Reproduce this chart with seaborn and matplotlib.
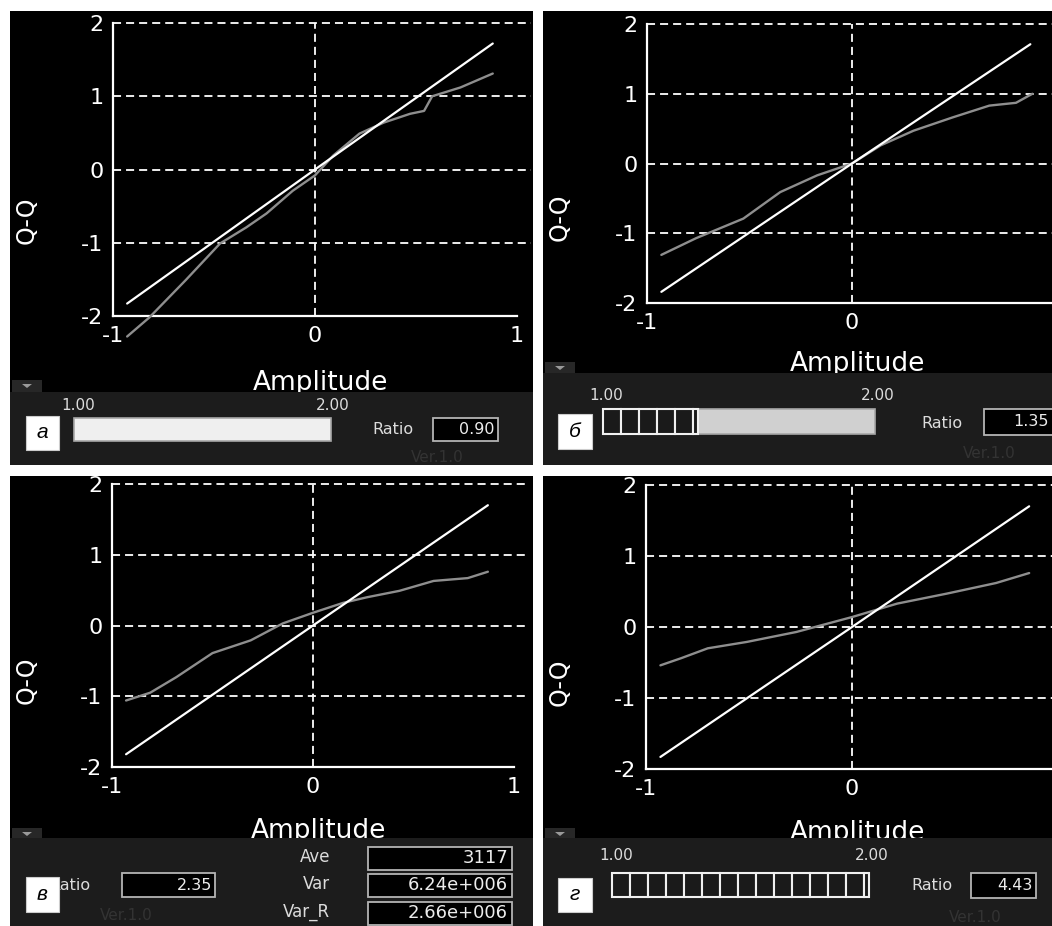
import matplotlib
matplotlib.use("Agg")
import matplotlib.pyplot as plt
from matplotlib.patches import Rectangle, Polygon
import seaborn as sns

# values
panel_letters = ["а", "б", "в", "г"]
ratios = [0.90, 1.35, 2.35, 4.43]
ratio_text = ["0.90", "1.35", "2.35", "4.43"]
slider_labels = ["1.00", "2.00"]
stat_names = ["Ave", "Var", "Var_R"]
stat_values = ["3117", "6.24e+006", "2.66e+006"]
x_ticks = [-1, 0, 1]
y_ticks = [-2, -1, 0, 1, 2]

# white reference line
ref_x = [[-0.93, 0.0, 0.88], [-0.93, 0.0, 0.87], [-0.93, 0.0, 0.87], [-0.93, 0.0, 0.86]]
ref_y = [[-1.83, 0.0, 1.72], [-1.84, 0.0, 1.71], [-1.82, 0.0, 1.70], [-1.83, 0.0, 1.70]]

# grey empirical quantile line
qq_x_a = [-0.93, -0.82, -0.64, -0.47, -0.34, -0.24, -0.11, 0.0, 0.09, 0.22, 0.34, 0.47, 0.54, 0.58, 0.72, 0.88]
qq_y_a = [-2.28, -2.02, -1.51, -1.01, -0.79, -0.60, -0.29, -0.08, 0.19, 0.49, 0.64, 0.76, 0.80, 1.00, 1.12, 1.31]
qq_x_b = [-0.93, -0.76, -0.53, -0.35, -0.17, 0.0, 0.14, 0.30, 0.49, 0.67, 0.80, 0.88]
qq_y_b = [-1.31, -1.07, -0.79, -0.41, -0.17, 0.0, 0.26, 0.47, 0.66, 0.83, 0.87, 1.00]
qq_x_c = [-0.93, -0.81, -0.68, -0.50, -0.31, -0.15, 0.0, 0.15, 0.27, 0.43, 0.60, 0.77, 0.87]
qq_y_c = [-1.06, -0.95, -0.73, -0.39, -0.21, 0.03, 0.18, 0.32, 0.40, 0.49, 0.63, 0.67, 0.76]
qq_x_d = [-0.93, -0.83, -0.70, -0.51, -0.27, 0.0, 0.22, 0.46, 0.70, 0.86]
qq_y_d = [-0.54, -0.44, -0.30, -0.21, -0.07, 0.14, 0.33, 0.47, 0.62, 0.76]
qq_x = [qq_x_a, qq_x_b, qq_x_c, qq_x_d]
qq_y = [qq_y_a, qq_y_b, qq_y_c, qq_y_d]

W, H = 1052, 926

# screen layout in pixels (x from left, y from top)
layout = [
    dict(box=(10, 11, 523, 454), strip=392, tab=(12, 380), xl=113, x0=315, yt=23, yb=316,
         amp=(320, 390), qq=(27, 220), slider=(74, 418, 257, 23), smin=(78, 406), smax=(333, 406),
         slider_bg="#efefef", letter=(26, 416, 33, 34), ratio=(393, 430), vbox=(433, 418, 65, 23),
         vtx=494, ver=(437, 458)),
    dict(box=(543, 11, 520, 454), strip=373, tab=(545, 362), xl=647, x0=852, yt=24, yb=303,
         amp=(857, 371), qq=(560, 217), slider=(603, 409, 272, 25), smin=(606, 396), smax=(878, 396),
         slider_bg="#d0d0d0", letter=(558, 414, 34, 35), ratio=(942, 423), vbox=(984, 409, 80, 26),
         vtx=1049, ver=(989, 454)),
    dict(box=(10, 476, 523, 460), strip=838, tab=(12, 828), xl=112, x0=313, yt=484, yb=767,
         amp=(318, 838), qq=(27, 680), slider=None, letter=(26, 877, 33, 35), ratio=(70, 885),
         vbox=(122, 873, 93, 24), vtx=212, ver=(126, 915)),
    dict(box=(543, 476, 520, 460), strip=838, tab=(545, 828), xl=646, x0=852, yt=485, yb=769,
         amp=(857, 840), qq=(560, 682), slider=(612, 873, 257, 24), smin=(616, 856), smax=(872, 856),
         slider_bg="#d0d0d0", letter=(558, 878, 34, 34), ratio=(932, 886), vbox=(971, 873, 65, 25),
         vtx=1033, ver=(975, 918)),
]

sns.set_style("white")
plt.rcParams["font.family"] = ["DejaVu Sans"]
plt.rcParams["axes.unicode_minus"] = False
plt.rcParams["lines.scale_dashes"] = False

fig = plt.figure(figsize=(W / 100, H / 100), dpi=100, facecolor="white")

ax_bg = fig.add_axes([0, 0, 1, 1], zorder=0)
ax_fg = fig.add_axes([0, 0, 1, 1], zorder=3)
for a in (ax_bg, ax_fg):
    a.set_xlim(0, W)
    a.set_ylim(H, 0)
    a.axis("off")
    a.patch.set_alpha(0)

txt = "#dcdcdc"
dash = (0, (5.8, 3.6))

for i, L in enumerate(layout):
    bx, by, bw, bh = L["box"]
    ax_bg.add_patch(Rectangle((bx, by), bw, bh, facecolor="black", edgecolor="none"))

    # plot area
    unit = L["x0"] - L["xl"]
    xmax = 1.07
    right = L["x0"] + xmax * unit
    ax = fig.add_axes([L["xl"] / W, 1 - L["yb"] / H, (right - L["xl"]) / W, (L["yb"] - L["yt"]) / H], zorder=1)
    ax.patch.set_alpha(0)
    ax.set_xlim(-1, xmax)
    ax.set_ylim(-2, 2)
    for yv in y_ticks[1:]:
        ax.axhline(yv, color="white", lw=1.3, ls=dash, clip_on=False, zorder=1)
    ax.axvline(0, color="white", lw=1.3, ls=dash, clip_on=False, zorder=1)

    sns.lineplot(x=qq_x[i], y=qq_y[i], ax=ax, color="#8e8e8e", linewidth=1.7,
                 estimator=None, sort=False, clip_on=False, zorder=3)
    sns.lineplot(x=ref_x[i], y=ref_y[i], ax=ax, color="white", linewidth=1.6,
                 estimator=None, sort=False, clip_on=False, zorder=4)

    for s in ("top", "right"):
        ax.spines[s].set_visible(False)
    for s in ("left", "bottom"):
        ax.spines[s].set_color("white")
        ax.spines[s].set_linewidth(1.6)
    ax.spines["bottom"].set_bounds(-1, 1)
    # ticks that fall outside the screenshot are not shown
    ax.set_xticks([t for t in x_ticks if L["x0"] + t * unit + 8 < W])
    ax.set_yticks(y_ticks)
    ax.tick_params(length=0, colors="white", labelsize=16, pad=7)
    ax.set_xlabel("Amplitude", color="white", fontsize=19, va="baseline")
    ax.xaxis.set_label_coords(L["amp"][0], L["amp"][1], transform=ax_bg.transData)
    ax.set_ylabel("Q-Q", color="white", fontsize=17, va="center")
    ax.yaxis.set_label_coords(L["qq"][0], L["qq"][1], transform=ax_bg.transData)

    # control strip under the plot
    ax_fg.add_patch(Rectangle((bx, L["strip"]), bw, by + bh - L["strip"], facecolor="#1c1c1c",
                              edgecolor="none", zorder=1))
    tx, ty = L["tab"]
    ax_fg.add_patch(Rectangle((tx, ty), 30, L["strip"] - ty, facecolor="#272727", edgecolor="none", zorder=1))
    ax_fg.add_patch(Polygon([(tx + 10, ty + 4), (tx + 20, ty + 4), (tx + 15, ty + 8)], closed=True,
                            facecolor="#9a9a9a", edgecolor="none", zorder=2))

    if L["slider"] is not None:
        sx, sy, sw, sh = L["slider"]
        ax_fg.add_patch(Rectangle((sx, sy), sw, sh, facecolor=L["slider_bg"], edgecolor="#a8a8a8",
                                  linewidth=1.2, zorder=2))
        frac = min(max((ratios[i] - 1.0) / (2.0 - 1.0), 0.0), 1.0)
        fill = frac * sw
        seg = 18.0
        pos = 0.0
        while pos < fill - 0.5:
            w = min(seg, fill - pos)
            ax_fg.add_patch(Rectangle((sx + pos, sy), w, sh, facecolor="#1a1a1a", edgecolor="#f0f0f0",
                                      linewidth=1.5, zorder=3))
            pos += seg
        ax_fg.text(L["smin"][0], L["smin"][1], slider_labels[0], color=txt, fontsize=11,
                   ha="center", va="center", zorder=3)
        ax_fg.text(L["smax"][0], L["smax"][1], slider_labels[1], color=txt, fontsize=11,
                   ha="center", va="center", zorder=3)

    ax_fg.text(L["ratio"][0], L["ratio"][1], "Ratio", color=txt, fontsize=11.5, ha="center",
               va="center", zorder=3)
    vx, vy, vw, vh = L["vbox"]
    ax_fg.add_patch(Rectangle((vx, vy), vw, vh, facecolor="black", edgecolor="#b4b4b4",
                              linewidth=1.3, zorder=3))
    ax_fg.text(L["vtx"], vy + vh / 2, ratio_text[i], color="#ececec", fontsize=11.5, ha="right",
               va="center", zorder=4)
    ax_fg.text(L["ver"][0], L["ver"][1], "Ver.1.0", color="#333333", fontsize=11, ha="center",
               va="center", zorder=3)

    lx, ly, lw, lh = L["letter"]
    ax_fg.add_patch(Rectangle((lx, ly), lw, lh, facecolor="white", edgecolor="#cccccc",
                              linewidth=0.8, zorder=6))
    ax_fg.text(lx + lw / 2, ly + lh / 2, panel_letters[i], color="black", fontsize=15,
               style="italic", family=["Liberation Sans", "DejaVu Sans"],
               ha="center", va="center", zorder=7)

# statistics boxes of panel в
stat_y = [858, 885, 913]
for name, val, yc in zip(stat_names, stat_values, stat_y):
    ax_fg.text(330, yc - 1, name, color=txt, fontsize=12, ha="right", va="center", zorder=3)
    ax_fg.add_patch(Rectangle((368, yc - 11.5), 144, 23, facecolor="black", edgecolor="#b4b4b4",
                              linewidth=1.3, zorder=3))
    ax_fg.text(508, yc, val, color="#ececec", fontsize=13, ha="right", va="center", zorder=4)

fig.savefig("out.png", dpi=100, facecolor="white")
